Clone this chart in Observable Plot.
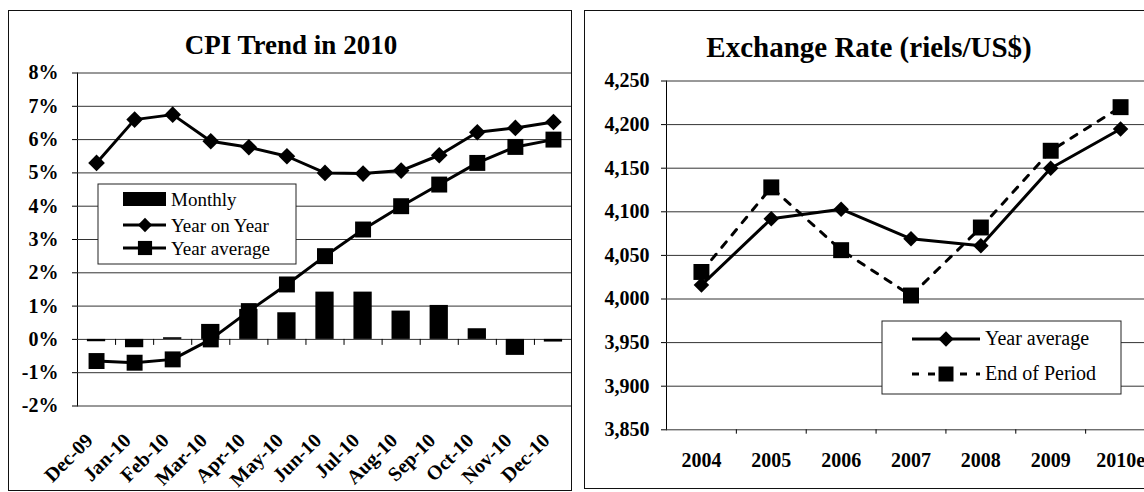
<!DOCTYPE html>
<html>
<head>
<meta charset="utf-8">
<script src="https://cdn.jsdelivr.net/npm/d3@7"></script>
<script src="https://cdn.jsdelivr.net/npm/@observablehq/plot@0.6"></script>
<style>
  html, body { margin: 0; padding: 0; background: #fff; overflow: hidden; width: 1144px; height: 492px; }
  #page { position: relative; width: 1144px; height: 492px; overflow: hidden; background: #fff; }
  .chart { position: absolute; top: 0; }
  .panel { position: absolute; box-sizing: border-box; border: 1.5px solid #111; pointer-events: none; }
  #overlay { position: absolute; left: 0; top: 0; }
</style>
</head>
<body>
<div id="page">
  <div id="leftChart" class="chart" style="left:0;width:572px;height:492px"></div>
  <div id="rightChart" class="chart" style="left:585px;width:570px;height:492px"></div>
  <div class="panel" style="left:8px;top:10px;width:564px;height:481px"></div>
  <div class="panel" style="left:584px;top:10px;width:700px;height:479px"></div>
  <svg id="overlay" width="1144" height="492"></svg>
</div>
<script>
// ---------- CPI data ----------
const months = ["Dec-09","Jan-10","Feb-10","Mar-10","Apr-10","May-10","Jun-10","Jul-10","Aug-10","Sep-10","Oct-10","Nov-10","Dec-10"];
const monthly = [-0.07, -0.25, 0.05, 0.45, 0.9, 0.8, 1.42, 1.42, 0.85, 1.02, 0.32, -0.48, -0.08];
const yearOnYear = [5.3, 6.6, 6.75, 5.95, 5.77, 5.5, 5.0, 4.98, 5.07, 5.53, 6.22, 6.35, 6.53];
const yearAverage = [-0.65, -0.7, -0.6, 0.0, 0.85, 1.65, 2.5, 3.3, 4.0, 4.65, 5.3, 5.78, 6.0];
const cpiTicks = [-2, -1, 0, 1, 2, 3, 4, 5, 6, 7, 8];

// ---------- Exchange rate data ----------
const years = ["2004","2005","2006","2007","2008","2009","2010e"];
const fxYearAverage = [4016, 4092, 4103, 4069, 4061, 4150, 4195];
const fxEndOfPeriod = [4031, 4128, 4056, 4004, 4082, 4170, 4220];
const fxTicks = [3850, 3900, 3950, 4000, 4050, 4100, 4150, 4200, 4250];

const FONT = "'Liberation Serif', 'Times New Roman', Times, serif";
const axisStyle = {fontFamily: FONT, fontSize: "20px", fontWeight: "bold", color: "#000", background: "transparent", overflow: "visible", maxWidth: "none"};

const cpi = months.map((m, i) => ({month: m, monthly: monthly[i], yoy: yearOnYear[i], avg: yearAverage[i]}));
const fx = years.map((y, i) => ({year: y, avg: fxYearAverage[i], end: fxEndOfPeriod[i]}));

// Left chart
const L = {width: 572, height: 492, ml: 77, mr: 0, mt: 72.5, mb: 86.5};
const step1 = (L.width - L.ml - L.mr) / months.length;
const leftPlot = Plot.plot({
  width: L.width, height: L.height,
  marginLeft: L.ml, marginRight: L.mr, marginTop: L.mt, marginBottom: L.mb,
  style: axisStyle,
  x: {domain: months, type: "band", paddingInner: 0.52, paddingOuter: 0.26, round: false,
      tickSize: 0, tickPadding: 24, tickRotate: -45, label: null},
  y: {domain: [-2, 8], ticks: cpiTicks, tickFormat: d => d + "%", tickSize: 5, tickPadding: 14, line: true, label: null},
  marks: [
    Plot.ruleY(cpiTicks, {stroke: "#333", strokeWidth: 1}),
    Plot.barY(cpi, {x: "month", y: "monthly", fill: "#000"}),
    Plot.ruleX(months.slice(0, -1), {x: d => d, y1: 0, y2: -0.18, dx: step1 / 2, stroke: "#000", strokeWidth: 1}),
    Plot.line(cpi, {x: "month", y: "yoy", stroke: "#000", strokeWidth: 3}),
    Plot.dot(cpi, {x: "month", y: "yoy", symbol: "diamond2", r: 7.5, fill: "#000", stroke: "none"}),
    Plot.line(cpi, {x: "month", y: "avg", stroke: "#000", strokeWidth: 3}),
    Plot.dot(cpi, {x: "month", y: "avg", symbol: "square", r: 9, fill: "#000", stroke: "none"})
  ]
});
document.getElementById("leftChart").append(leftPlot);
// shift rotated month labels back along their baseline, as in the original
d3.select(leftPlot).selectAll('g[aria-label^="x-axis"] text').each(function() {
  const t = this.getAttribute("transform") || "";
  this.setAttribute("transform", t + " translate(-10,0)");
});

// Right chart
const R = {width: 570, height: 492, ml: 81, mr: 0, mt: 80.5, mb: 62.7};
const step2 = (R.width - R.ml - R.mr) / years.length;
const rightPlot = Plot.plot({
  width: R.width, height: R.height,
  marginLeft: R.ml, marginRight: R.mr, marginTop: R.mt, marginBottom: R.mb,
  style: axisStyle,
  x: {domain: years, type: "band", padding: 0, round: false, tickSize: 0, tickPadding: 23, label: null},
  y: {domain: [3850, 4250], ticks: fxTicks, tickFormat: d3.format(","), tickSize: 5, tickPadding: 12, line: true, label: null},
  marks: [
    Plot.ruleY(fxTicks, {stroke: "#333", strokeWidth: 1}),
    Plot.ruleX(years.slice(0, -1), {x: d => d, y1: 3850, y2: 3845, dx: step2 / 2, stroke: "#000", strokeWidth: 1}),
    Plot.line(fx, {x: "year", y: "end", stroke: "#000", strokeWidth: 3, strokeDasharray: "7,9"}),
    Plot.line(fx, {x: "year", y: "avg", stroke: "#000", strokeWidth: 3}),
    Plot.dot(fx, {x: "year", y: "avg", symbol: "diamond2", r: 7, fill: "#000", stroke: "none"}),
    Plot.dot(fx, {x: "year", y: "end", symbol: "square", r: 9, fill: "#000", stroke: "none"})
  ]
});
document.getElementById("rightChart").append(rightPlot);

// Overlay: titles and legends
const ov = d3.select("#overlay");
ov.append("text").attr("x", 291).attr("y", 54).attr("text-anchor", "middle")
  .attr("font-family", FONT).attr("font-weight", "bold").attr("font-size", 27).text("CPI Trend in 2010");
ov.append("text").attr("x", 869).attr("y", 57).attr("text-anchor", "middle")
  .attr("font-family", FONT).attr("font-weight", "bold").attr("font-size", 29).text("Exchange Rate (riels/US$)");

const diamond = d3.symbol(d3.symbolDiamond2);
const square = d3.symbol(d3.symbolSquare);

// left legend
const lg = ov.append("g");
lg.append("rect").attr("x", 98).attr("y", 184).attr("width", 198).attr("height", 80)
  .attr("fill", "#fff").attr("stroke", "#222").attr("stroke-width", 1);
lg.append("rect").attr("x", 123).attr("y", 192).attr("width", 43).attr("height", 14).attr("fill", "#000");
lg.append("line").attr("x1", 123).attr("x2", 166).attr("y1", 225).attr("y2", 225).attr("stroke", "#000").attr("stroke-width", 3);
lg.append("path").attr("d", diamond.size(130)()).attr("transform", "translate(145,225)").attr("fill", "#000");
lg.append("line").attr("x1", 123).attr("x2", 166).attr("y1", 248).attr("y2", 248).attr("stroke", "#000").attr("stroke-width", 3);
lg.append("path").attr("d", square.size(200)()).attr("transform", "translate(145,248)").attr("fill", "#000");
[["Monthly", 206], ["Year on Year", 232], ["Year average", 255]].forEach(([t, y]) =>
  lg.append("text").attr("x", 171).attr("y", y).attr("font-family", FONT).attr("font-size", 19).text(t));

// right legend
const rg = ov.append("g");
rg.append("rect").attr("x", 882).attr("y", 321).attr("width", 239).attr("height", 73)
  .attr("fill", "#fff").attr("stroke", "#222").attr("stroke-width", 1);
rg.append("line").attr("x1", 912).attr("x2", 980).attr("y1", 339).attr("y2", 339).attr("stroke", "#000").attr("stroke-width", 3);
rg.append("path").attr("d", diamond.size(150)()).attr("transform", "translate(946,339)").attr("fill", "#000");
rg.append("line").attr("x1", 912).attr("x2", 980).attr("y1", 374).attr("y2", 374).attr("stroke", "#000").attr("stroke-width", 3).attr("stroke-dasharray", "7,9");
rg.append("path").attr("d", square.size(225)()).attr("transform", "translate(946,374)").attr("fill", "#000");
[["Year average", 345], ["End of Period", 380]].forEach(([t, y]) =>
  rg.append("text").attr("x", 985).attr("y", y).attr("font-family", FONT).attr("font-size", 20).text(t));
</script>
</body>
</html>
